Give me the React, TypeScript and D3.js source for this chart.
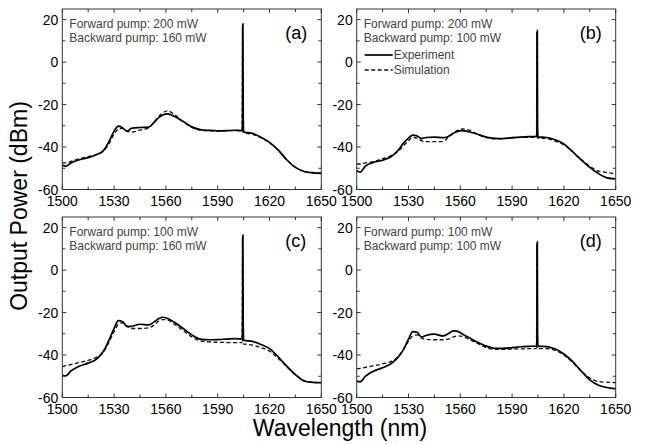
import React from "react";
import * as d3 from "d3";

// ---- data ----
const wl = [1500, 1502, 1505, 1510, 1515, 1520, 1524, 1527, 1530, 1532.5, 1535, 1537.5, 1540, 1545, 1550, 1553, 1556, 1558, 1561, 1565, 1570, 1575, 1580, 1585, 1590, 1595, 1600, 1604, 1610, 1615, 1620, 1625, 1630, 1635, 1640, 1645, 1650];

const expA = [-48.5, -49, -47.5, -46, -45, -43.5, -41.5, -37.5, -32.5, -30.2, -31, -32.6, -31.2, -30.8, -30.6, -28.5, -26, -25, -24.4, -25.6, -28, -30.5, -31.8, -32.2, -32.4, -32.3, -32.1, -32.3, -33.5, -35.4, -37.8, -41.3, -46, -49.6, -51.5, -52.2, -52.4];
const simA = [-47.5, -47.5, -46.8, -45.5, -44.5, -43.5, -41.8, -38.5, -34, -31.5, -31.2, -32.5, -33, -32, -31, -28.5, -25.5, -24, -23, -24.8, -28, -30.8, -32, -32.3, -32.5, -32.4, -32.2, -32.4, -34, -35.6, -38, -41.5, -46, -49.5, -51.5, -52, -52.2];

const expB = [-51.2, -51.8, -49, -47.2, -46.2, -44.5, -41.5, -38.3, -35.8, -34.4, -34.8, -36, -35.5, -35.3, -35.6, -35, -33.5, -32.8, -32.3, -32.8, -34, -35.3, -35.9, -36, -35.6, -35.3, -35.1, -35, -35.5, -36.6, -38.5, -42.2, -46, -49.6, -52.5, -54.5, -55];
const simB = [-48, -48, -47.5, -46.8, -45.5, -44, -42, -39.5, -37, -35.5, -35.8, -37, -37.5, -37.5, -37.3, -35.5, -33.5, -32.3, -31.5, -32, -34, -35.6, -36.2, -36, -35.7, -35.5, -35.4, -35.5, -36, -37.2, -39, -42.2, -45.8, -49, -51.3, -52, -52.5];

const expC = [-49.5, -49.8, -47.5, -45.2, -43.8, -41.8, -38, -33, -27.5, -23.8, -24.3, -26.5, -26.5, -25.5, -25.8, -24.5, -22.8, -22.2, -22.8, -24.6, -27.5, -30.5, -32.5, -32.8, -32.7, -32.5, -32.3, -32.4, -33.6, -35, -37, -40.8, -45.2, -49.2, -52.2, -52.9, -53];
const simC = [-45.5, -45, -44.5, -43.5, -42.5, -41, -38.5, -34, -29, -25.5, -24.8, -26.5, -27.5, -27.5, -27.2, -26, -24, -23.3, -23.5, -25.5, -28.5, -31.5, -33.3, -33.8, -34, -34.1, -34.2, -34.2, -35.3, -36.5, -38.2, -41.5, -45.5, -49.3, -52, -52.8, -53];

const expD = [-52.3, -52.6, -50, -47.5, -46, -44, -41, -37.6, -32.5, -29, -29.3, -31.5, -30.8, -30.2, -31, -30, -28.6, -28.7, -30, -31.8, -34, -35.8, -36.8, -36.9, -36.5, -36.1, -35.9, -35.8, -36, -37.2, -39.5, -43, -47.5, -51.7, -54.2, -55.3, -55.9];
const simD = [-46.5, -46.3, -45.8, -45, -44.2, -43, -40.8, -37.5, -33.5, -31, -30.5, -32, -32.6, -32.8, -32.8, -32.5, -31.5, -31, -31.2, -32.6, -34.5, -36.5, -37.3, -37.3, -37.2, -37.1, -37, -37, -37, -37.8, -40, -43.5, -47.5, -50.8, -52.5, -52.8, -53];

// laser line (spike) near 1604.6 nm
const spikeWl = [1604.2, 1604.45, 1604.6, 1604.75, 1605.0];
const spikePeakExp = [18, 15, 16.5, 13.4];
const spikePedestalExp = [-21, -30, -22, -30];
const spikePeakSim = [17, 14, 15.5, 12.5];

const panelLabels = ["(a)", "(b)", "(c)", "(d)"];
const forwardPump = ["Forward pump: 200 mW", "Forward pump: 200 mW", "Forward pump: 100 mW", "Forward pump: 100 mW"];
const backwardPump = ["Backward pump: 160 mW", "Backward pump: 100 mW", "Backward pump: 160 mW", "Backward pump: 100 mW"];
const expSeries = [expA, expB, expC, expD];
const simSeries = [simA, simB, simC, simD];

const xTicks = [1500, 1530, 1560, 1590, 1620, 1650];
const yTicks = [-60, -40, -20, 0, 20];

// ---- layout ----
const W = 648;
const H = 445;
const PW = 259;
const PH = 180.5;
const origins = [
  [62.3, 9],
  [356.7, 9],
  [62.3, 217],
  [356.7, 217],
];
const FONT = "'Liberation Sans', Arial, Helvetica, sans-serif";

function buildSeries(vals: number[], peak: number, pedestal: number, shift: number) {
  const pts: [number, number][] = [];
  const baseIdx = wl.indexOf(1604);
  for (let i = 0; i < wl.length; i++) {
    pts.push([wl[i], vals[i]]);
    if (i === baseIdx) {
      const b0 = vals[i];
      const b1 = vals[i + 1];
      const sv = [b0, pedestal, peak, pedestal, (b0 + b1) / 2];
      spikeWl.forEach((w, k) => pts.push([w + shift, sv[k]]));
    }
  }
  return pts;
}

function Panel({ idx }: { idx: number }) {
  const [x0, y0] = origins[idx];
  const x = d3.scaleLinear().domain([1500, 1650]).range([x0, x0 + PW]);
  const y = d3.scaleLinear().domain([-60, 25]).range([y0 + PH, y0]);
  const line = d3
    .line<[number, number]>()
    .x((d) => x(d[0]))
    .y((d) => y(d[1]))
    .curve(d3.curveMonotoneX);

  const expPts = buildSeries(expSeries[idx], spikePeakExp[idx], spikePedestalExp[idx], 0);
  const simPts = buildSeries(simSeries[idx], spikePeakSim[idx], simSeries[idx][27] + 1, -0.3);

  const xMinor = d3.range(1500, 1651, 15);
  const yMinor = d3.range(-60, 21, 10);
  const tickCol = "#333";

  return (
    <g>
      <defs>
        <clipPath id={`clip${idx}`}>
          <rect x={x0} y={y0} width={PW} height={PH} />
        </clipPath>
      </defs>
      <g clipPath={`url(#clip${idx})`}>
        <path d={line(simPts) || ""} fill="none" stroke="#111" strokeWidth={1.3} strokeDasharray="4,2.5" />
        <path d={line(expPts) || ""} fill="none" stroke="#000" strokeWidth={1.7} />
      </g>
      {/* frame */}
      <rect x={x0} y={y0} width={PW} height={PH} fill="none" stroke={tickCol} strokeWidth={1} />
      {xMinor.map((v) => {
        const major = xTicks.includes(v);
        const len = major ? 4 : 3;
        return (
          <g key={"xt" + v}>
            <line x1={x(v)} x2={x(v)} y1={y0 + PH} y2={y0 + PH - len} stroke={tickCol} />
            <line x1={x(v)} x2={x(v)} y1={y0} y2={y0 + len} stroke={tickCol} />
          </g>
        );
      })}
      {yMinor.map((v) => {
        const major = yTicks.includes(v);
        const len = major ? 4 : 3;
        return (
          <g key={"yt" + v}>
            <line x1={x0} x2={x0 + len} y1={y(v)} y2={y(v)} stroke={tickCol} />
            <line x1={x0 + PW} x2={x0 + PW - len} y1={y(v)} y2={y(v)} stroke={tickCol} />
          </g>
        );
      })}
      {xTicks.map((v) => (
        <text key={"xl" + v} x={x(v)} y={y0 + PH + 16} textAnchor="middle" fontSize={14} fontFamily={FONT} fill="#000">
          {String(v)}
        </text>
      ))}
      {yTicks.map((v) => (
        <text key={"yl" + v} x={x0 - 4} y={y(v)} dy="0.36em" textAnchor="end" fontSize={14} fontFamily={FONT} fill="#000">
          {String(v)}
        </text>
      ))}
      <text x={x0 + 7} y={y0 + 18.5} fontSize={12} fontFamily={FONT} fill="#444">
        {forwardPump[idx]}
      </text>
      <text x={x0 + 7} y={y0 + 33} fontSize={12} fontFamily={FONT} fill="#444">
        {backwardPump[idx]}
      </text>
      <text x={x0 + 223} y={y0 + 29.5} fontSize={18} fontFamily={FONT} fill="#000">
        {panelLabels[idx]}
      </text>
    </g>
  );
}

export default function App() {
  const [bx, by] = origins[1];
  return (
    <svg
      width={W}
      height={H}
      viewBox={`0 0 ${W} ${H}`}
      style={{ position: "absolute", left: 0, top: 0, background: "#fff" }}
    >
      <rect x={0} y={0} width={W} height={H} fill="#fff" />
      {[0, 1, 2, 3].map((i) => (
        <Panel key={i} idx={i} />
      ))}
      {/* legend in panel (b) */}
      <line x1={bx + 8} x2={bx + 36} y1={by + 46} y2={by + 46} stroke="#000" strokeWidth={1.7} />
      <text x={bx + 37} y={by + 50} fontSize={12} fontFamily={FONT} fill="#444">
        Experiment
      </text>
      <line x1={bx + 8} x2={bx + 36} y1={by + 61} y2={by + 61} stroke="#111" strokeWidth={1.3} strokeDasharray="4,2.5" />
      <text x={bx + 37} y={by + 65} fontSize={12} fontFamily={FONT} fill="#444">
        Simulation
      </text>
      <text
        transform={`translate(27,206) rotate(-90)`}
        textAnchor="middle"
        fontSize={23}
        fontFamily={FONT}
        fill="#000"
      >
        Output Power (dBm)
      </text>
      <text x={340} y={436} textAnchor="middle" fontSize={23} fontFamily={FONT} fill="#000">
        Wavelength (nm)
      </text>
    </svg>
  );
}
